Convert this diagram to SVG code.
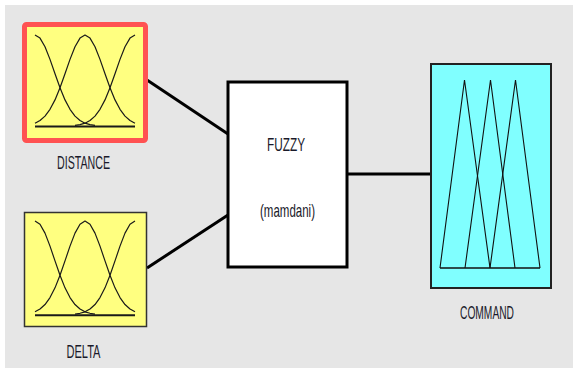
<svg xmlns="http://www.w3.org/2000/svg" width="573" height="368" viewBox="0 0 573 368">
<style>
.lbl{font-family:"Liberation Sans",Arial,sans-serif;font-size:19px;fill:#1a1a2a;text-anchor:middle}
.mf{fill:none;stroke:#1a1a1a;stroke-width:1.2;stroke-linejoin:round;vector-effect:non-scaling-stroke}
.base{stroke:#1a1a1a;stroke-width:1.8;vector-effect:non-scaling-stroke}
.tri{fill:none;stroke:#111;stroke-width:1.1;stroke-linejoin:miter}
.conn{stroke:#000;stroke-width:3;fill:none}
</style>
<defs>
<g id="gauss">
<polyline class="mf" points="35,0 40,3.1 45,11.8 50,24.4 55,38.7 60,52.7 65,64.9 70,74.3 75,81.1 80,85.5 85,88.2 90,89.6 95,90.4"/>
<polyline class="mf" points="35,88.2 40,85.5 45,81.1 50,74.3 55,64.9 60,52.7 65,38.7 70,24.4 75,11.8 80,3.1 85,0 90,3.1 95,11.8 100,24.4 105,38.7 110,52.7 115,64.9 120,74.3 125,81.1 130,85.5 135,88.2"/>
<polyline class="mf" points="135,0 130,3.1 125,11.8 120,24.4 115,38.7 110,52.7 105,64.9 100,74.3 95,81.1 90,85.5 85,88.2 80,89.6 75,90.4"/>
<line class="base" x1="35" y1="91.5" x2="135" y2="91.5"/>
</g>
</defs>
<rect x="5" y="5" width="568" height="363" fill="#e6e6e6"/>
<g id="connectors">
<line class="conn" x1="147" y1="80" x2="228" y2="134"/>
<line class="conn" x1="147" y1="268" x2="228" y2="215"/>
<line class="conn" x1="348" y1="174" x2="431" y2="174"/>
</g>
<g id="distance">
<rect x="24.5" y="24.5" width="121" height="116" rx="2" fill="#ffff80" stroke="#ff5252" stroke-width="5"/>
<use href="#gauss" transform="translate(0,35)"/>
<text class="lbl" x="83.5" y="169" textLength="53" lengthAdjust="spacingAndGlyphs">DISTANCE</text>
</g>
<g id="delta">
<rect x="24.5" y="212.5" width="122" height="114" fill="#ffff80" stroke="#333" stroke-width="1.5"/>
<use href="#gauss" transform="translate(0,221) scale(1,1.03)"/>
<text class="lbl" x="83.5" y="358" textLength="34" lengthAdjust="spacingAndGlyphs">DELTA</text>
</g>
<g id="fuzzy">
<rect x="228" y="82" width="119" height="185" fill="#ffffff" stroke="#000" stroke-width="3"/>
<text class="lbl" x="286" y="151" textLength="38" lengthAdjust="spacingAndGlyphs">FUZZY</text>
<text class="lbl" x="287.5" y="217" textLength="55" lengthAdjust="spacingAndGlyphs">(mamdani)</text>
</g>
<g id="command">
<rect x="431" y="64" width="120" height="224" fill="#80ffff" stroke="#222" stroke-width="2"/>
<polyline class="tri" points="440,268 464.5,80 490,268"/>
<polyline class="tri" points="465,268 490.5,80 515,268"/>
<polyline class="tri" points="490,268 515.5,80 540,268"/>
<line x1="440" y1="268" x2="540" y2="268" stroke="#111" stroke-width="1.5"/>
<text class="lbl" x="487" y="319" textLength="54" lengthAdjust="spacingAndGlyphs">COMMAND</text>
</g>
</svg>
